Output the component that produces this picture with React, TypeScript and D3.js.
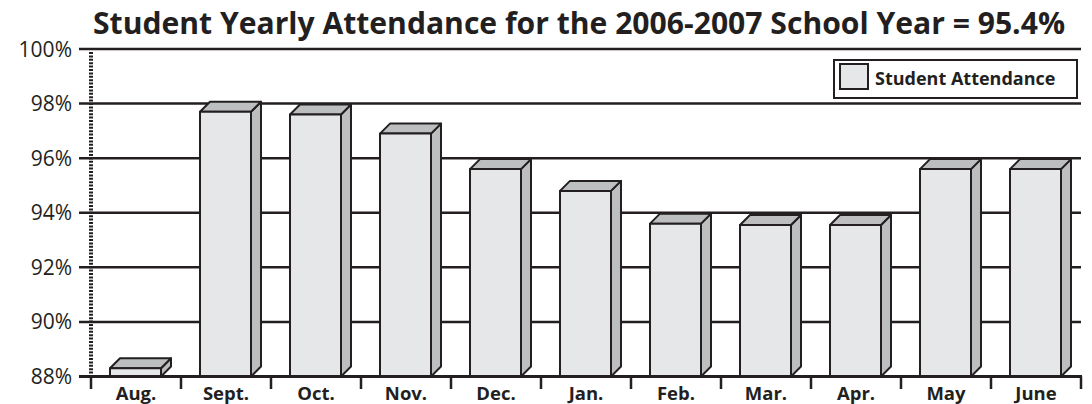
import * as d3 from 'd3'

const months = ['Aug.', 'Sept.', 'Oct.', 'Nov.', 'Dec.', 'Jan.', 'Feb.', 'Mar.', 'Apr.', 'May', 'June']
const attendance = [88.3, 97.7, 97.6, 96.9, 95.6, 94.8, 93.6, 93.55, 93.55, 95.6, 95.6]
const yTicks = [88, 90, 92, 94, 96, 98, 100]
const seriesName = 'Student Attendance'
const title = 'Student Yearly Attendance for the 2006-2007 School Year = 95.4%'

const ink = '#231f20'
const front = '#e6e7e8'
const shade = '#bcbec0'

export default function App() {
  const width = 1092
  const height = 404
  const left = 91
  const right = 1081
  const top = 49
  const bottom = 376.5
  const depth = 10

  const x = d3.scaleBand<string>().domain(months).range([left, right])
  const y = d3.scaleLinear().domain([88, 100]).range([bottom, top])
  const fmt = (v: number) => `${v}%`

  const barW = 51
  const barOff = 19

  return (
    <svg width={width} height={height} style={{ position: 'absolute', left: 0, top: 0, fontFamily: '"Open Sans", sans-serif' }}>
      <rect width={width} height={height} fill="#fff" />
      <text x={93} y={34} fontSize={29.5} fontWeight={700} fill={ink} textLength={972} lengthAdjust="spacingAndGlyphs">
        {title}
      </text>

      {/* gridlines + y labels */}
      {yTicks.map(t => (
        <g key={t}>
          {t !== 88 && (
            <line x1={79} x2={right} y1={y(t)} y2={y(t)} stroke={ink} strokeWidth={2.5} />
          )}
          <text x={72} y={y(t) + 7.5} fontSize={21} textAnchor="end" fill={ink}>{fmt(t)}</text>
        </g>
      ))}

      {/* dotted y axis */}
      <line x1={left} x2={left} y1={top + 3} y2={bottom} stroke={ink} strokeWidth={4} strokeDasharray="2,1.4" />

      {/* bars */}
      {months.map((m, i) => {
        const x0 = (x(m) || 0) + barOff
        const x1 = x0 + barW
        const yt = y(attendance[i])
        const yb = bottom
        const topFace = `M${x0},${yt} L${x0 + depth},${yt - depth} L${x1 + depth},${yt - depth} L${x1},${yt} Z`
        const sideFace = `M${x1},${yt} L${x1 + depth},${yt - depth} L${x1 + depth},${yb - depth} L${x1},${yb} Z`
        return (
          <g key={m} stroke={ink} strokeWidth={2} strokeLinejoin="round">
            <path d={sideFace} fill={shade} />
            <path d={topFace} fill={shade} />
            <rect x={x0} y={yt} width={barW} height={yb - yt} fill={front} />
          </g>
        )
      })}

      {/* x axis */}
      <line x1={79} x2={right + 1} y1={bottom} y2={bottom} stroke={ink} strokeWidth={3} />
      {[...months.map(m => x(m) || 0), right].map((t, i) => (
        <line key={i} x1={t} x2={t} y1={bottom} y2={389} stroke={ink} strokeWidth={2.5} />
      ))}
      {months.map(m => (
        <text key={m} x={(x(m) || 0) + x.bandwidth() / 2} y={399.5} fontSize={18.5} fontWeight={700} textAnchor="middle" fill={ink}>
          {m}
        </text>
      ))}

      {/* legend */}
      <rect x={834} y={60} width={243} height={38} fill="#fff" stroke={ink} strokeWidth={2} />
      <rect x={840} y={64} width={28} height={25} fill={front} stroke={ink} strokeWidth={2} />
      <text x={875} y={84.5} fontSize={18} fontWeight={700} fill={ink}>{seriesName}</text>
    </svg>
  )
}
